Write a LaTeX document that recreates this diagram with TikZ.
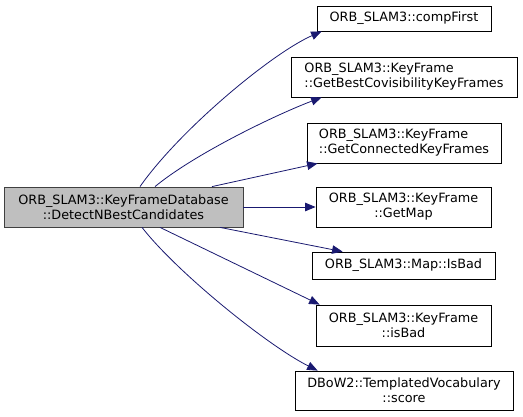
\documentclass[tikz,border=0pt]{standalone}
\usepackage{fontspec}
\setmainfont{DejaVu Sans}
\usetikzlibrary{arrows.meta,positioning,calc}
\definecolor{callblue}{HTML}{191970}
\definecolor{mainfill}{HTML}{BFBFBF}
\definecolor{mainline}{HTML}{404040}

\begin{document}
\begin{tikzpicture}[
  x=1pt, y=-1pt,
  font=\fontsize{12.8}{15}\selectfont,
  fn/.style={draw, fill=white, line width=0.8pt, inner sep=0pt, align=center},
  caller/.style={fn, draw=mainline, fill=mainfill},
  call/.style={draw=callblue, line width=0.8pt,
               -{Triangle[length=10.5pt,width=8.5pt]}, fill=none},
]
\useasboundingbox (0,0) rectangle (523,417);

% caller
\node[caller, minimum width=239, minimum height=40] (main) at (123.5,207)
  {ORB\_SLAM3::KeyFrameDatabase\\::DetectNBestCandidates};

% callees
\node[fn, minimum width=174, minimum height=25] (first) at (404,18.5)
  {ORB\_SLAM3::compFirst};
\node[fn, align=left, minimum width=226, minimum height=40] (best) at (404,77)
  {ORB\_SLAM3::KeyFrame\\::GetBestCovisibilityKeyFrames};
\node[fn, align=left, minimum width=194, minimum height=40] (conn) at (404,143)
  {ORB\_SLAM3::KeyFrame\\::GetConnectedKeyFrames};
\node[fn, minimum width=175, minimum height=40] (getmap) at (403.5,207)
  {ORB\_SLAM3::KeyFrame\\::GetMap};
\node[fn, minimum width=183, minimum height=27] (mapbad) at (403.5,265.5)
  {ORB\_SLAM3::Map::IsBad};
\node[fn, minimum width=175, minimum height=41] (kfbad) at (403.5,325.5)
  {ORB\_SLAM3::KeyFrame\\::isBad};
\node[fn, minimum width=218, minimum height=39] (score) at (404,390.5)
  {DBoW2::TemplatedVocabulary\\::score};

% calls
\draw[call] ([xshift=16.5pt]main.north) .. controls +(40,-57) and +(-50,22)
  .. ([xshift=5pt]first.south west);
\draw[call] ([xshift=31.5pt]main.north) .. controls +(40,-33) and +(-45,17)
  .. ([xshift=31pt]best.south west);
\draw[call] ([xshift=88.5pt]main.north) -- ([xshift=11pt]conn.south west);
\draw[call] (main.east) -- (getmap.west);
\draw[call] ([xshift=96.5pt]main.south) -- ([xshift=31pt]mapbad.north west);
\draw[call] ([xshift=36.5pt]main.south) -- ([xshift=4pt]kfbad.north west);
\draw[call] ([xshift=18.5pt]main.south) .. controls +(35,45) and +(-50,-25)
  .. ([xshift=23pt]score.north west);
\end{tikzpicture}
\end{document}
